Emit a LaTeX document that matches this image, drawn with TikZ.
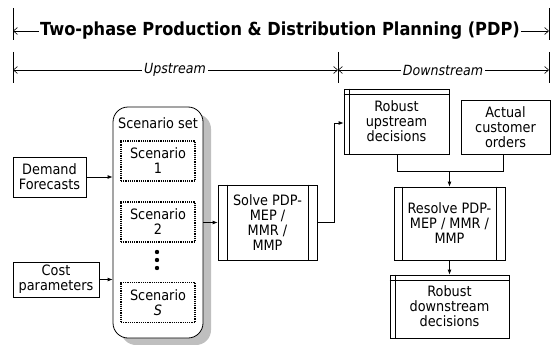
\documentclass[tikz,border=0pt]{standalone}
\usepackage{fontspec}
\setmainfont{DejaVu Sans Condensed}
\usetikzlibrary{arrows.meta,shadows}
\begin{document}
\begin{tikzpicture}[x=1pt,y=-1pt,
  font=\fontsize{14.3}{15}\selectfont,
  line width=0.8pt,
  box/.style={draw, align=center, inner sep=0pt},
  scen/.style={draw, densely dotted, line width=1.2pt, align=center, inner sep=0pt, minimum width=74pt, minimum height=40pt},
  conn/.style={-{Latex[length=5pt,width=4pt]}},
  dim/.style={-{Straight Barb[length=4pt,width=7pt]}, line width=0.6pt},
  tick/.style={line width=0.8pt}]
\useasboundingbox (0,0) rectangle (551,345);

% dimension lines
\coordinate (L1a) at (13,8); \coordinate (L1b) at (13,40);
\coordinate (R1a) at (549,8); \coordinate (R1b) at (549,40);
\coordinate (L1) at (13,31); \coordinate (R1) at (549,31);
\draw[tick] (L1a) -- (L1b);
\draw[tick] (R1a) -- (R1b);
\node[inner sep=1pt, font=\fontsize{18}{20}\selectfont\bfseries] (title) at (280,31) {Two-phase Production \& Distribution Planning (PDP)};
\draw[dim] (title.west) -- (L1);
\draw[dim] (title.east) -- (R1);

\coordinate (L2a) at (13,52); \coordinate (L2b) at (13,83);
\coordinate (M2a) at (338,52); \coordinate (M2b) at (338,83);
\coordinate (R2a) at (549,52); \coordinate (R2b) at (549,83);
\coordinate (L2) at (13,70); \coordinate (M2) at (338,70); \coordinate (R2) at (549,70);
\draw[tick] (L2a) -- (L2b);
\draw[tick] (M2a) -- (M2b);
\draw[tick] (R2a) -- (R2b);
\node[inner sep=2pt, font=\fontsize{14}{15}\selectfont\itshape] (up) at (175,70) {Upstream};
\node[inner sep=2pt, font=\fontsize{14}{15}\selectfont\itshape] (down) at (443,70) {Downstream};
\draw[dim] (up.west) -- (L2);
\draw[dim] (up.east) -- (M2);
\draw[dim] (down.west) -- (M2);
\draw[dim] (down.east) -- (R2);

% inputs
\node[box, minimum width=73pt, minimum height=40pt] (dem) at (49.5,177) {Demand\\Forecasts};
\node[box, minimum width=86pt, minimum height=35pt] (cost) at (56,279.5) {Cost\\parameters};

% scenario set
\node[draw, rounded corners=15pt, minimum width=90pt, minimum height=231pt, inner sep=0pt,
      fill=white, drop shadow={shadow xshift=8pt, shadow yshift=-7pt, fill=black!25, opacity=1}] (set) at (158,222.5) {};
\node (setlbl) at (158,123) {Scenario set};
\node[scen] (s1) at (158,161) {Scenario\\1};
\node[scen] (s2) at (158,222) {Scenario\\2};
\node[scen] (sS) at (158,302.5) {Scenario\\\textit{S}};
\foreach \yy/\nm in {252/d1,260/d2,268/d3} \fill (157,\yy) circle (2.2pt) coordinate (\nm);

\coordinate (setin1) at (set.west |- dem.east);
\coordinate (setin2) at (set.west |- cost.east);
\draw[conn] (dem.east) -- (setin1);
\draw[conn] (cost.east) -- (setin2);

% solve
\node[box, minimum width=99pt, minimum height=75pt] (solve) at (267.5,222.5) {Solve PDP-\\MEP /\\MMR /\\MMP};
\draw ([xshift=10pt]solve.north west) -- ([xshift=10pt]solve.south west);
\draw ([xshift=-9pt]solve.north east) -- ([xshift=-9pt]solve.south east);
\draw[conn] (set.east |- solve.west) -- (solve.west);

% robust upstream
\node[box, minimum width=105pt, minimum height=65pt] (ru) at (396.5,121.5) {Robust\\upstream\\decisions};
\draw ([yshift=-6pt]ru.north west) -- ([yshift=-6pt]ru.north east);
\draw ([xshift=6pt]ru.north west) -- ([xshift=6pt]ru.south west);
\coordinate (bend1) at (334,222.5);
\coordinate (bend2) at (334,123);
\draw[conn] (solve.east) -- (bend1) -- (bend2) -- (ru.west |- bend2);

% actual orders
\node[box, minimum width=89pt, minimum height=54pt] (act) at (505.5,127) {Actual\\customer\\orders};

% resolve
\node[box, minimum width=111pt, minimum height=73pt] (res) at (449.5,223.5) {Resolve PDP-\\MEP / MMR /\\MMP};
\draw ([xshift=9pt]res.north west) -- ([xshift=9pt]res.south west);
\draw ([xshift=-9pt]res.north east) -- ([xshift=-9pt]res.south east);

\coordinate (join) at (449.5,171);
\draw (ru.south -| 397,0) |- (join);
\draw (act.south -| 503,0) |- (join);
\draw[conn] (join) -- (res.north);

% robust downstream
\node[box, minimum width=119pt, minimum height=63pt] (rd) at (449.5,306.5) {Robust\\downstream\\decisions};
\draw ([yshift=-6pt]rd.north west) -- ([yshift=-6pt]rd.north east);
\draw ([xshift=6pt]rd.north west) -- ([xshift=6pt]rd.south west);
\draw[conn] (res.south) -- (rd.north);
\end{tikzpicture}
\end{document}
